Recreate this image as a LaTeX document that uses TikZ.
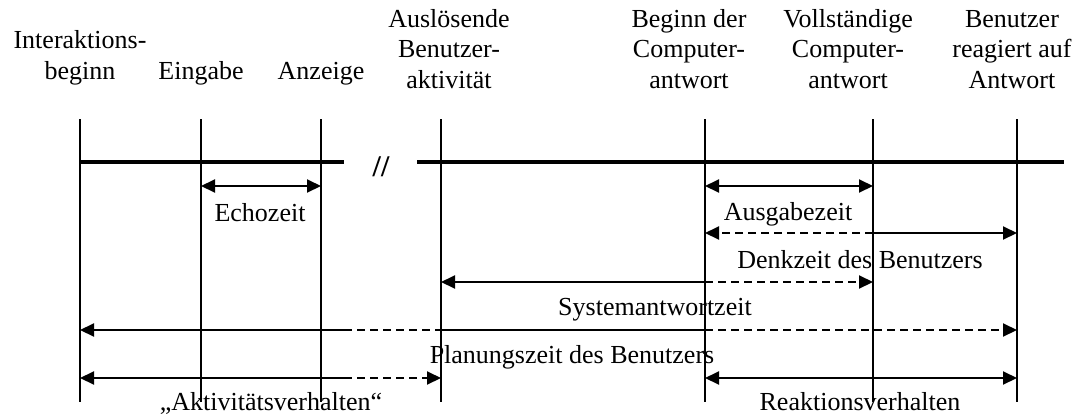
\documentclass[tikz,border=0pt]{standalone}
\usepackage{fontspec}
\setmainfont{Liberation Serif}
\usetikzlibrary{arrows.meta}
\begin{document}
\begin{tikzpicture}[x=1pt,y=-1pt,
  lbl/.style={font=\fontsize{26}{30.5}\selectfont, inner sep=0pt, anchor=base, align=center},
  evline/.style={line width=1.6pt},
  axisline/.style={line width=4.8pt},
  span/.style={line width=2pt, >={Triangle[length=14pt,width=13pt]}},
  dsh/.style={dash pattern=on 8pt off 5pt}
]
\useasboundingbox (0,0) rectangle (1084,418);

% event columns (top and bottom of each vertical line)
\coordinate (I) at (80,119);   \coordinate (Ib) at (80,402);
\coordinate (E) at (201,119);  \coordinate (Eb) at (201,402);
\coordinate (A) at (321,119);  \coordinate (Ab) at (321,402);
\coordinate (B) at (441,119);  \coordinate (Bb) at (441,402);
\coordinate (C) at (705,119);  \coordinate (Cb) at (705,402);
\coordinate (V) at (873,119);  \coordinate (Vb) at (873,402);
\coordinate (R) at (1017,119); \coordinate (Rb) at (1017,402);

% rows and break points
\coordinate (ax) at (0,162);
\coordinate (r1) at (0,186);
\coordinate (r2) at (0,233);
\coordinate (r3) at (0,282);
\coordinate (r4) at (0,330);
\coordinate (r5) at (0,378);
\coordinate (brk) at (344,0);
\coordinate (resume) at (417,0);
\coordinate (axend) at (1064,0);

% event labels (anchored at the baseline of their last line)
\node[lbl] (tI) at (80,79) {Interaktions-\\beginn};
\node[lbl] (tE) at (201,79) {Eingabe};
\node[lbl] (tA) at (321,79) {Anzeige};
\node[lbl] (tB) at (449,88) {Auslösende\\Benutzer-\\aktivität};
\node[lbl] (tC) at (689,88) {Beginn der\\Computer-\\antwort};
\node[lbl] (tV) at (848,88) {Vollständige\\Computer-\\antwort};
\node[lbl] (tR) at (1012,88) {Benutzer\\reagiert auf\\Antwort};

% interval labels
\node[lbl] (lEcho) at (260,221) {Echozeit};
\node[lbl] (lAus)  at (788,220) {Ausgabezeit};
\node[lbl] (lDenk) at (860,268) {Denkzeit des Benutzers};
\node[lbl] (lSys)  at (655,315) {Systemantwortzeit};
\node[lbl] (lPlan) at (572,363) {Planungszeit des Benutzers};
\node[lbl] (lAkt)  at (271,410) {„Aktivitätsverhalten“};
\node[lbl] (lReak) at (860,410) {Reaktionsverhalten};

% vertical event lines
\foreach \top/\bot in {I/Ib,E/Eb,A/Ab,B/Bb,C/Cb,V/Vb,R/Rb}
  \draw[evline] (\top) -- (\bot);

% time axis with break mark
\draw[axisline] (I|-ax) -- (brk|-ax);
\draw[axisline] (resume|-ax) -- (axend|-ax);
\node[font=\fontsize{30}{30}\bfseries, inner sep=0pt] (gap) at (381,167) {//};

% Echozeit, Ausgabezeit
\draw[span,<->] (E|-r1) -- (A|-r1);
\draw[span,<->] (C|-r1) -- (V|-r1);

% Denkzeit des Benutzers
\draw[span,dsh,->] (V|-r2) -- (C|-r2);
\draw[span,->] (V|-r2) -- (R|-r2);

% Systemantwortzeit
\draw[span,->] (C|-r3) -- (B|-r3);
\draw[span,dsh,->] (C|-r3) -- (V|-r3);

% Planungszeit des Benutzers
\draw[span,->] (brk|-r4) -- (I|-r4);
\draw[span,dsh] (brk|-r4) -- (B|-r4);
\draw[span] (B|-r4) -- (C|-r4);
\draw[span,dsh,->] (C|-r4) -- (R|-r4);

% Aktivitaets- und Reaktionsverhalten
\draw[span,->] (brk|-r5) -- (I|-r5);
\draw[span,dsh,->] (brk|-r5) -- (B|-r5);
\draw[span,<->] (C|-r5) -- (R|-r5);
\end{tikzpicture}
\end{document}
